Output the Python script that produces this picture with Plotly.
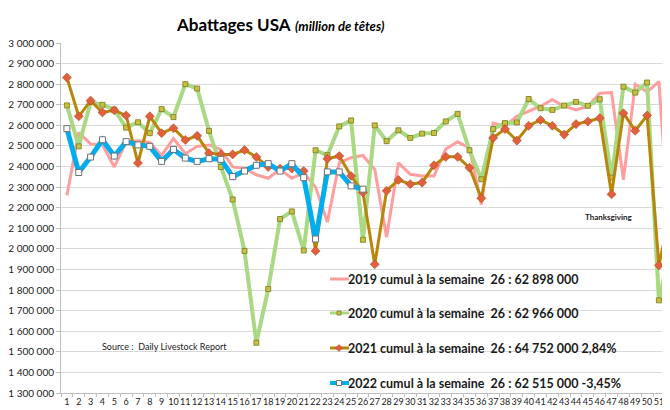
import plotly.graph_objects as go

weeks = list(range(1, 53))
y2019 = [2260, 2565, 2510, 2505, 2398, 2517, 2525, 2517, 2454, 2536,
         2462, 2498, 2505, 2483, 2398, 2391, 2360, 2343, 2386, 2343,
         2370, 2300, 2130, 2418, 2443, 2454, 2386, 2057, 2418, 2362,
         2354, 2354, 2485, 2520, 2490, 2215, 2611, 2595, 2644, 2669,
         2693, 2725, 2693, 2675, 2693, 2756, 2759, 2335, 2800, 2763,
         2812, 1990]
y2020 = [2697, 2498, 2713, 2700, 2676, 2589, 2615, 2562, 2679, 2640,
         2800, 2779, 2573, 2398, 2240, 1990, 1544, 1805, 2145, 2182,
         1992, 2479, 2455, 2595, 2624, 2044, 2600, 2523, 2576, 2539,
         2560, 2563, 2619, 2656, 2479, 2338, 2582, 2611, 2614, 2728,
         2683, 2675, 2696, 2714, 2695, 2727, 2346, 2788, 2759, 2808,
         1750, 2010]
y2021 = [2832, 2644, 2720, 2663, 2673, 2648, 2417, 2644, 2562, 2586,
         2529, 2549, 2465, 2459, 2459, 2480, 2446, 2398, 2390, 2390,
         2378, 1990, 2438, 2451, 2354, 2274, 1925, 2282, 2335, 2314,
         2322, 2406, 2447, 2447, 2394, 2246, 2539, 2582, 2526, 2598,
         2626, 2598, 2555, 2606, 2619, 2635, 2265, 2659, 2574, 2648,
         1920, 2190]
y2022 = [2584, 2371, 2446, 2530, 2451, 2521, 2505, 2498, 2425, 2483,
         2441, 2425, 2438, 2435, 2351, 2378, 2406, 2414, 2378, 2414,
         2346, 2048, 2374, 2374, 2306, 2290]

y_ticks = list(range(1300000, 3000001, 100000))
y_tick_labels = ["{:,}".format(v).replace(",", " ") for v in y_ticks]

legend_labels = [
    "2019 cumul à la semaine  26 : 62 898 000",
    "2020 cumul à la semaine  26 : 62 966 000",
    "2021 cumul à la semaine  26 : 64 752 000 2,84%",
    "2022 cumul à la semaine  26 : 62 515 000 -3,45%",
]

FONT = "Lato"
# the page body has an 8px margin: figure is sized to fill the 670x410 window
OFF = 8
W, H = 670 - OFF, 410 - OFF
L, R, T, B = 61 - OFF, 0, 43 - OFF, 17
PW, PH = W - L - R, H - T - B


def px(x):  # x in window pixels
    return (x - OFF - L) / PW


def py(y):  # y in window pixels
    return (H - B - (y - OFF)) / PH


def k(v):
    return [a * 1000 for a in v]


C2019 = "#FF9E9E"
C2020 = "#A9D983"
C2021 = "#B8860B"
C2022 = "#00AEEF"

fig = go.Figure()
fig.add_trace(go.Scatter(x=weeks, y=k(y2019), mode="lines",
                         line=dict(color=C2019, width=3), name="2019"))
fig.add_trace(go.Scatter(x=weeks, y=k(y2020), mode="lines+markers",
                         line=dict(color=C2020, width=4),
                         marker=dict(symbol="square", size=5, color="#C8C040",
                                     line=dict(color="#7A7A20", width=0.8)),
                         name="2020"))
fig.add_trace(go.Scatter(x=weeks, y=k(y2021), mode="lines+markers",
                         line=dict(color=C2021, width=3),
                         marker=dict(symbol="diamond", size=7, color="#E0603C",
                                     line=dict(color="#B04020", width=0.5)),
                         name="2021"))
fig.add_trace(go.Scatter(x=weeks[:len(y2022)], y=k(y2022), mode="lines+markers",
                         line=dict(color=C2022, width=5),
                         marker=dict(symbol="square", size=6, color="white",
                                     line=dict(color="#707070", width=1)),
                         name="2022"))

annotations = []
annotations.append(dict(
    xref="paper", yref="paper", x=px(174), y=py(24), xanchor="left", yanchor="middle",
    text="<b>Abattages USA</b> <b><i><span style='font-size:13px'>(million de têtes)</span></i></b>",
    showarrow=False, font=dict(family=FONT, size=17, color="#000000")))

leg_y = [279, 313, 348, 383]
colors = [C2019, C2020, C2021, C2022]
shapes = []
for lab, yy, col in zip(legend_labels, leg_y, colors):
    annotations.append(dict(
        xref="paper", yref="paper", x=px(346), y=py(yy), xanchor="left", yanchor="middle",
        text="<b>" + lab + "</b>", showarrow=False,
        font=dict(family=FONT, size=12.5, color="#1a1a1a")))
    shapes.append(dict(type="line", xref="paper", yref="paper",
                       x0=px(330), x1=px(349), y0=py(yy), y1=py(yy),
                       line=dict(color=col, width=3 if col != C2022 else 4)))
shapes.append(dict(type="rect", xref="paper", yref="paper",
                   x0=px(337), x1=px(341), y0=py(311), y1=py(315),
                   fillcolor="#C8C040", line=dict(color="#7A7A20", width=0.8)))
shapes.append(dict(type="path", xref="paper", yref="paper",
                   path="M {a},{b} L {c},{d} L {a},{e} L {f},{d} Z".format(
                       a=px(339), b=py(344.5), c=px(342.5), d=py(348), e=py(351.5), f=px(335.5)),
                   fillcolor="#E0603C", line=dict(color="#B04020", width=0.5)))
shapes.append(dict(type="rect", xref="paper", yref="paper",
                   x0=px(336.5), x1=px(341.5), y0=py(380.5), y1=py(385.5),
                   fillcolor="white", line=dict(color="#707070", width=1)))

annotations.append(dict(
    xref="paper", yref="paper", x=px(100), y=py(346), xanchor="left", yanchor="middle",
    text="Source :  Daily Livestock Report", showarrow=False,
    font=dict(family=FONT, size=9, color="#222222")))
annotations.append(dict(
    xref="paper", yref="paper", x=px(609), y=py(217), xanchor="center", yanchor="middle",
    text="<b>Thanksgiving</b>", showarrow=False,
    font=dict(family=FONT, size=8, color="#222222")))

fig.update_layout(
    width=W, height=H,
    margin=dict(l=L, r=R, t=T, b=B, autoexpand=False),
    paper_bgcolor="white", plot_bgcolor="white",
    showlegend=False,
    font=dict(family=FONT, size=9, color="#333333"),
    annotations=annotations, shapes=shapes,
)
fig.update_xaxes(
    range=[0.5, 0.5 + PW / 11.84], tickmode="array", tickvals=weeks,
    ticktext=[str(w) for w in weeks], ticks="", showgrid=False, tickangle=0,
    showline=True, linecolor="#BFBFBF", linewidth=1, zeroline=False,
    tickfont=dict(family=FONT, size=9, color="#222222"), ticklabelstandoff=0,
    minor=dict(ticks="outside", ticklen=3, tickcolor="#BFBFBF", tick0=0.5, dtick=1, showgrid=False),
)
fig.update_yaxes(
    range=[1300000, 3000000], tickmode="array", tickvals=y_ticks, ticktext=y_tick_labels,
    showgrid=True, gridcolor="#D9D9D9", gridwidth=1,
    ticks="outside", ticklen=4, tickcolor="#BFBFBF",
    showline=True, linecolor="#BFBFBF", linewidth=1, zeroline=False,
    tickfont=dict(family=FONT, size=10, color="#222222"),
)

fig.write_html("out.html")
